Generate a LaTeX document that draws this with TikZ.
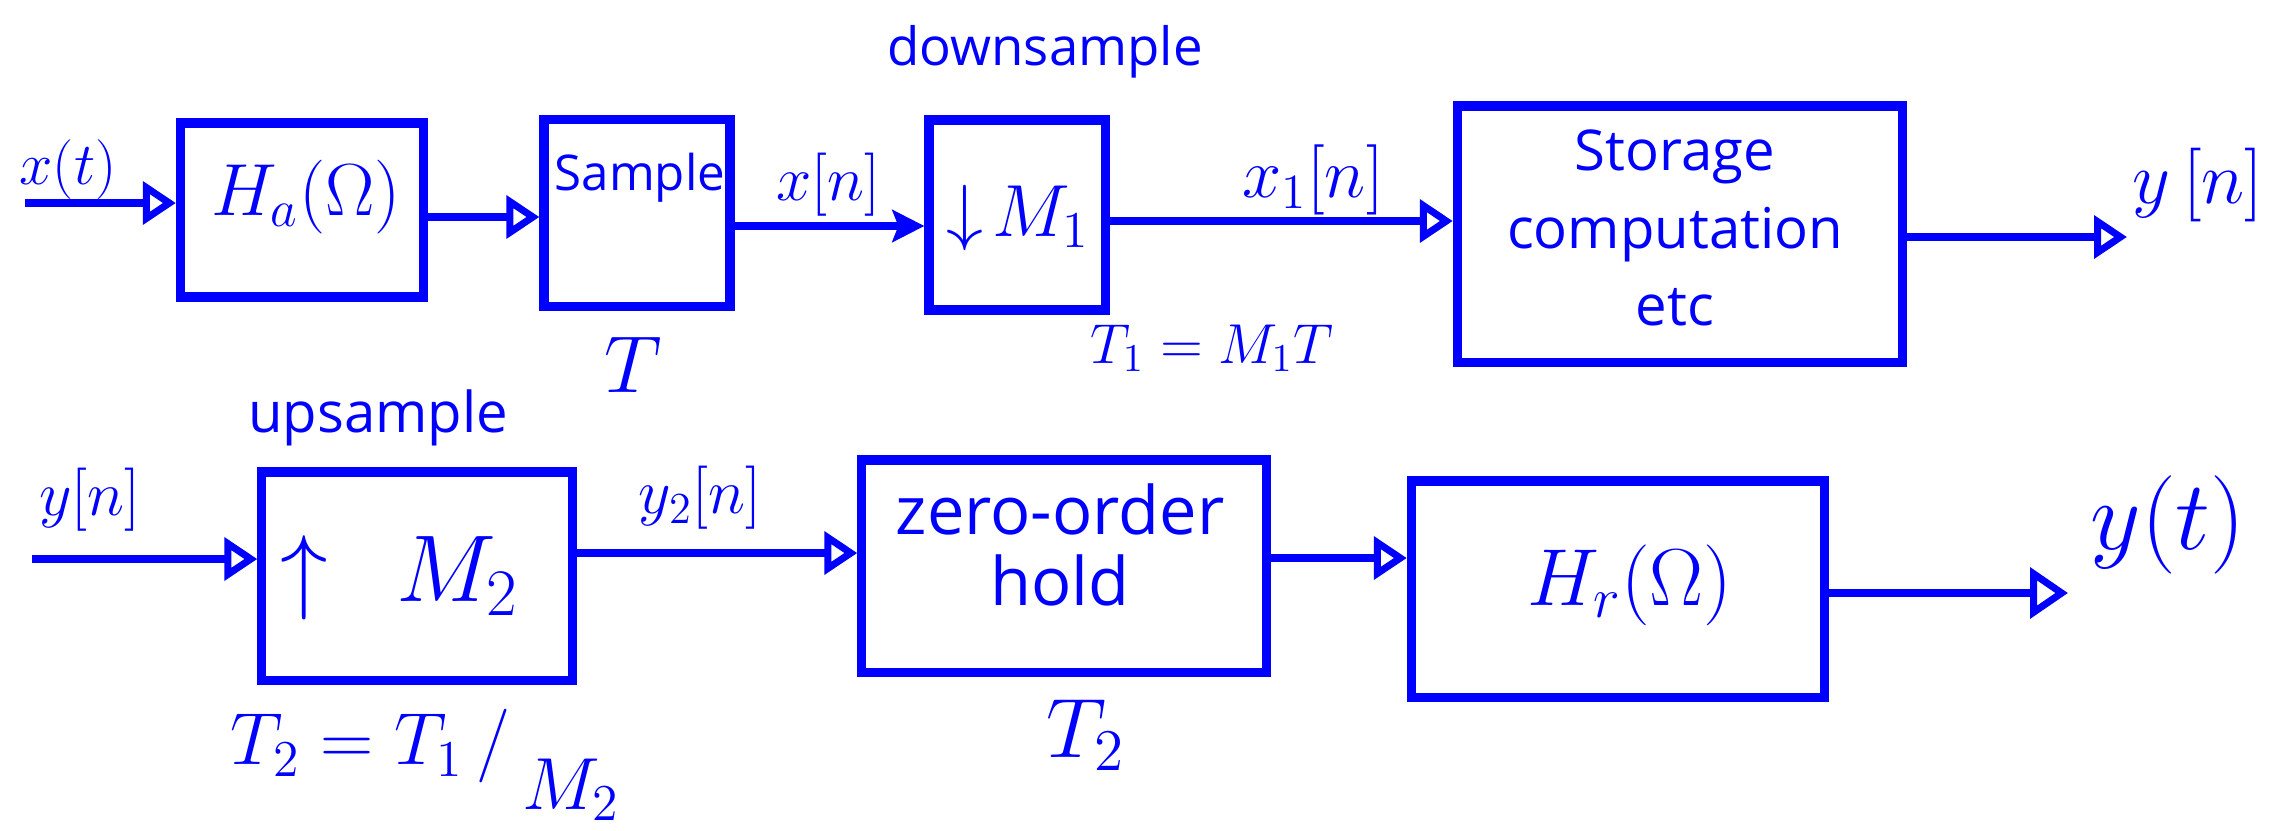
\RequirePackage{fix-cm}
\documentclass[tikz,border=0pt]{standalone}
\usepackage{fontspec}
\setmainfont{Open Sans}
\usetikzlibrary{arrows.meta,calc}
\definecolor{pen}{RGB}{0,0,255}
\begin{document}
\begin{tikzpicture}[x=0.01cm,y=-0.01cm,
  box/.style={draw=pen, line width=2.6pt, inner sep=0pt},
  lbl/.style={text=pen, inner sep=0pt},
  conn/.style={draw=pen, line width=2.4pt, -{Triangle[open,length=0.33cm,width=0.42cm,line width=2pt]}},
  connfill/.style={draw=pen, line width=2.4pt, -{Stealth[length=0.32cm,width=0.32cm,inset=0.06cm]}},
  connout/.style={draw=pen, line width=2.4pt, -{Triangle[open,length=0.38cm,width=0.5cm,line width=2pt]}},
]
\useasboundingbox (0,0) rectangle (2283,830);
\fill[white] (0,0) rectangle (2283,830);

% ---------- top row boxes ----------
\node[box, minimum width=2.43cm, minimum height=1.74cm] (Ha) at (302,210) {};
\node[box, minimum width=1.86cm, minimum height=1.87cm] (Sample) at (637,213) {};
\node[box, minimum width=1.76cm, minimum height=1.90cm] (M1) at (1017,215) {};
\node[box, minimum width=4.45cm, minimum height=2.56cm] (Storage) at (1680,234) {};

% ---------- bottom row boxes ----------
\node[box, minimum width=3.10cm, minimum height=2.08cm] (M2) at (417,576) {};
\node[box, minimum width=4.04cm, minimum height=2.12cm] (ZOH) at (1064,566) {};
\node[box, minimum width=4.13cm, minimum height=2.16cm] (Hr) at (1618,589) {};

% ---------- texts in boxes ----------
\node[lbl, font=\fontsize{21}{24}\selectfont] (HaT) at (306,197) {$H_a(\Omega)$};
\node[lbl, font=\fontsize{14}{17}\selectfont] (SampleT) at (640,178) {Sample};
\node[lbl, font=\fontsize{21}{24}\selectfont] (M1T) at (1018,218) {$\downarrow\! M_1$};
\node[lbl, align=center, font=\fontsize{16}{22}\selectfont] (StorageT) at (1675,228) {Storage\\computation\\etc};
\node[lbl, font=\fontsize{27}{30}\selectfont] (M2T) at (400,578) {$\uparrow\;\, M_2$};
\node[lbl, align=center, font=\fontsize{19}{20}\selectfont] (ZOHT) at (1060,545) {zero-order\\hold};
\node[lbl, font=\fontsize{23}{26}\selectfont] (HrT) at (1630,585) {$H_r(\Omega)$};

% ---------- free ends ----------
\coordinate (xin) at (25,203);
\coordinate (yout) at (2127,237);
\coordinate (yin) at (32,559);
\coordinate (ytout) at (2068,593);

% ---------- connectors ----------
\draw[conn] (xin) -- (xin -| Ha.west);
\draw[conn] (Ha.east |- 0,217) -- (Sample.west |- 0,217);
\draw[connfill] (Sample.east |- 0,226) -- (M1.west |- 0,226);
\draw[conn] (M1.east |- 0,221) -- (Storage.west |- 0,221);
\draw[conn] (Storage.east |- yout) -- (yout);
\draw[conn] (yin) -- (yin -| M2.west);
\draw[conn] (M2.east |- 0,553) -- (ZOH.west |- 0,553);
\draw[conn] (ZOH.east |- 0,558) -- (Hr.west |- 0,558);
\draw[connout] (Hr.east |- ytout) -- (ytout);

% ---------- labels ----------
\node[lbl, font=\fontsize{17}{20}\selectfont] (xtL) at (68,170) {$x(t)$};
\node[lbl, font=\fontsize{18}{20}\selectfont] (xnL) at (828,185) {$x[n]$};
\node[lbl, font=\fontsize{20}{22}\selectfont] (x1nL) at (1313,180) {$x_1[n]$};
\node[lbl, font=\fontsize{21}{24}\selectfont] (ynL) at (2198,185) {$y\,[n]$};
\node[lbl, font=\fontsize{15}{18}\selectfont] (downL) at (1045,52) {downsample};
\node[lbl, font=\fontsize{23}{26}\selectfont] (TL) at (633,365) {$T$};
\node[lbl, font=\fontsize{16}{18}\selectfont] (T1L) at (1212,348) {$T_1 = M_1 T$};

\node[lbl, font=\fontsize{16}{18}\selectfont] (upL) at (378,418) {upsample};
\node[lbl, font=\fontsize{18}{20}\selectfont] (yinL) at (90,500) {$y[n]$};
\node[lbl, font=\fontsize{18}{20}\selectfont] (y2L) at (700,498) {$y_2[n]$};
\node[lbl, font=\fontsize{21}{24}\selectfont] (T2eqL) at (425,765) {$T_2 = T_1\,\Big/\,\raisebox{-0.6em}{$M_2$}$};
\node[lbl, font=\fontsize{24}{26}\selectfont] (T2L) at (1086,735) {$T_2$};
\node[lbl, font=\fontsize{28}{30}\selectfont] (ytL) at (2168,525) {$y(t)$};
\end{tikzpicture}
\end{document}
